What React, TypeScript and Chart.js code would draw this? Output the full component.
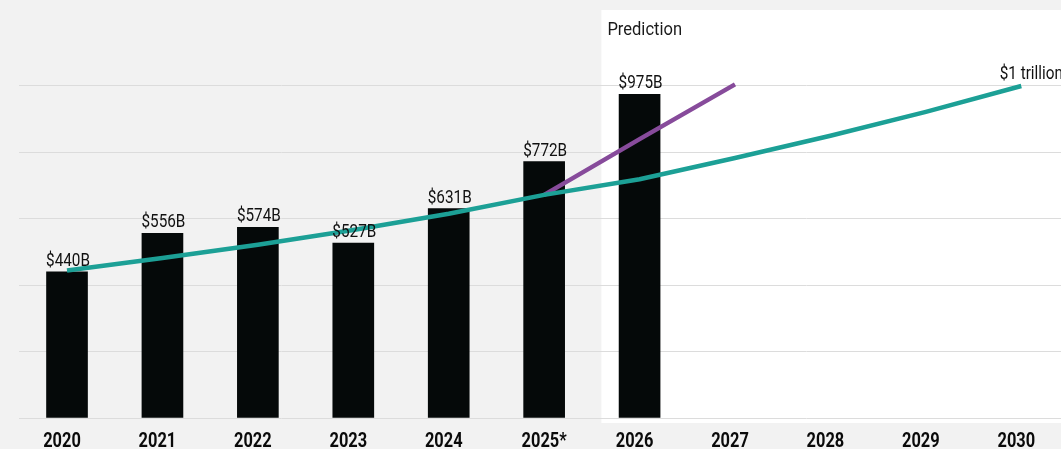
import React, { useEffect, useRef } from "react";
import { Chart, registerables } from "chart.js";

Chart.register(...registerables);

const years = ["2020", "2021", "2022", "2023", "2024", "2025*", "2026", "2027", "2028", "2029", "2030"];
const revenue = [440, 556, 574, 527, 631, 772, 975, null, null, null, null];
const trend = [444, 482, 522, 566, 615, 672, 719, 783, 850, 922, 1000];
const fastTrend = [null, null, null, null, null, 672, 840, 1005, null, null, null];
const trendEndLabel = "$1 trillion";
const predictionLabel = "Prediction";
const predictionStartIndex = 6;

const FONT = "Roboto, 'Noto Sans', sans-serif";
const CANVAS_W = 1069;
const CANVAS_H = 449;

function narrowText(ctx: CanvasRenderingContext2D, text: string, x: number, y: number, sx: number) {
  ctx.save();
  ctx.translate(x, y);
  ctx.scale(sx, 1);
  ctx.fillText(text, 0, 0);
  ctx.restore();
}

export default function App() {
  const ref = useRef<HTMLCanvasElement | null>(null);

  useEffect(() => {
    const canvas = ref.current;
    if (!canvas) return;

    const decor = {
      id: "decor",
      beforeDraw(chart: any) {
        const { ctx, chartArea, scales } = chart;
        const xs = scales.x;
        ctx.save();
        ctx.fillStyle = "#f2f2f2";
        ctx.fillRect(0, 0, chart.width, chart.height);
        const step = xs.getPixelForValue(1) - xs.getPixelForValue(0);
        const left = xs.getPixelForValue(predictionStartIndex) - 0.4 * step;
        ctx.fillStyle = "#ffffff";
        ctx.fillRect(left, 10, chart.width - left, chartArea.bottom + 5 - 10);
        ctx.restore();
      },
      afterDatasetsDraw(chart: any) {
        const { ctx, scales } = chart;
        const xs = scales.x;
        const step = xs.getPixelForValue(1) - xs.getPixelForValue(0);
        const left = xs.getPixelForValue(predictionStartIndex) - 0.4 * step;
        ctx.save();
        ctx.fillStyle = "#111111";
        ctx.textAlign = "center";
        ctx.textBaseline = "alphabetic";

        // value labels
        ctx.font = `18px ${FONT}`;
        const barMeta = chart.getDatasetMeta(0);
        barMeta.data.forEach((el: any, i: number) => {
          const v = revenue[i];
          if (v == null) return;
          narrowText(ctx, `$${v}B`, el.x + 1, el.y - 6, 0.85);
        });
        const lineMeta = chart.getDatasetMeta(1);
        const last = lineMeta.data[lineMeta.data.length - 1];
        if (last) {
          narrowText(ctx, trendEndLabel, last.x + 10, last.y - 7, 0.85);
        }

        // x tick labels
        ctx.font = `bold 20px ${FONT}`;
        ctx.fillStyle = "#0a0a0a";
        years.forEach((y, i) => {
          const x = xs.getPixelForValue(i) - (y.endsWith("*") ? 0 : 5);
          narrowText(ctx, y, x, 447, 0.82);
        });

        // Prediction heading
        ctx.font = `19px ${FONT}`;
        ctx.fillStyle = "#1a1a1a";
        ctx.textAlign = "left";
        narrowText(ctx, predictionLabel, left + 6, 35, 0.87);
        ctx.restore();
      },
    };

    const chart = new Chart(canvas, {
      type: "bar",
      data: {
        labels: years,
        datasets: [
          {
            type: "bar",
            data: revenue as any,
            backgroundColor: "#050909",
            barThickness: 41,
            order: 3,
          },
          {
            type: "line",
            data: trend as any,
            borderColor: "#1ca096",
            borderWidth: 4.5,
            pointRadius: 0,
            tension: 0,
            order: 1,
          },
          {
            type: "line",
            data: fastTrend as any,
            borderColor: "#874b9b",
            borderWidth: 4.5,
            pointRadius: 0,
            tension: 0,
            spanGaps: false,
            order: 2,
          },
        ],
      },
      plugins: [decor],
      options: {
        responsive: false,
        animation: false,
        devicePixelRatio: 1,
        layout: { padding: { left: 19.3, right: 0, top: 19.6, bottom: 0 } },
        plugins: {
          legend: { display: false },
          tooltip: { enabled: false },
        },
        scales: {
          x: {
            grid: { display: false, drawTicks: false },
            border: { display: false },
            ticks: { display: false, autoSkip: false },
            afterFit: (s: any) => {
              s.height = 31;
            },
          },
          y: {
            min: 0,
            max: 1200,
            ticks: { display: false, stepSize: 200 },
            border: { display: false },
            grid: {
              drawTicks: false,
              color: (c: any) => (c.tick && c.tick.value > 1000 ? "rgba(0,0,0,0)" : "#dcdcdc"),
              lineWidth: 1,
            },
            afterFit: (s: any) => {
              s.width = 0;
            },
          },
        },
      },
    } as any);

    return () => chart.destroy();
  }, []);

  return (
    <div
      style={{
        position: "absolute",
        left: 0,
        top: 0,
        width: 1061,
        height: 449,
        overflow: "hidden",
        background: "#f2f2f2",
      }}
    >
      <canvas ref={ref} width={CANVAS_W} height={CANVAS_H} style={{ display: "block" }} />
    </div>
  );
}
